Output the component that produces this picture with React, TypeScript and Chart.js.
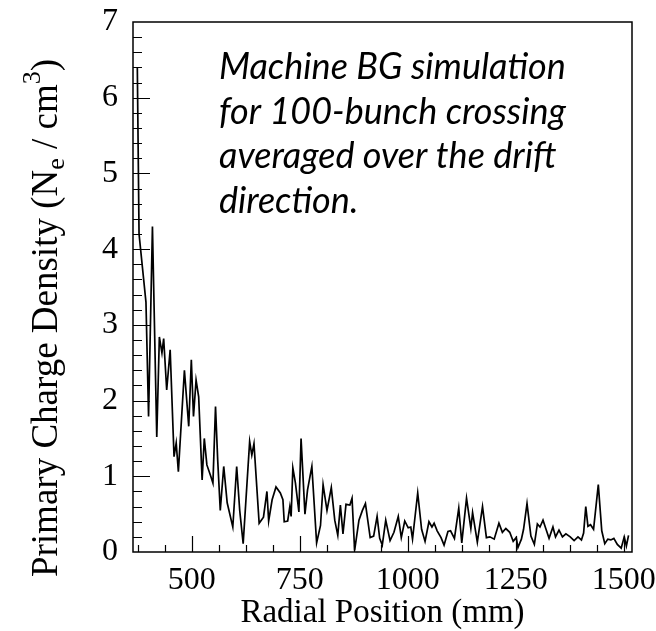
import React, { useEffect, useRef } from "react";
import { Chart, registerables } from "chart.js";

Chart.register(...registerables);

// Radial position (mm) of each sampled histogram point
const radialPos = [
  374, 378, 394, 400, 409, 419, 425, 431, 435, 442, 450, 459, 464, 469, 483, 493, 499, 504, 510, 516,
  524, 529, 535, 544, 549, 555, 560, 566, 574, 582, 595, 604, 611, 619, 634, 639, 644, 656, 666, 674,
  678, 686, 695, 705, 711, 714, 722, 727, 730, 734, 740, 748, 753, 762, 768, 778, 789, 798, 804, 813,
  823, 831, 838, 844, 850, 857, 866, 871, 877, 887, 895, 902, 913, 921, 929, 935, 941, 949, 959, 968,
  978, 985, 993, 1001, 1007, 1011, 1023, 1032, 1040, 1049, 1056, 1061, 1068, 1077, 1084, 1093, 1099, 1108, 1118, 1125,
  1136, 1146, 1150, 1161, 1173, 1182, 1190, 1200, 1211, 1219, 1227, 1236, 1244, 1251, 1255, 1263, 1268, 1276, 1285, 1293,
  1300, 1306, 1313, 1320, 1327, 1336, 1342, 1350, 1358, 1366, 1376, 1385, 1394, 1402, 1407, 1412, 1417, 1423, 1430, 1441,
  1449, 1456, 1463, 1470, 1477, 1485, 1494, 1501, 1506, 1511,
];

// Primary charge density (Ne / cm^3)
const density = [
  6.4, 4.2, 3.3, 1.79, 4.3, 1.52, 2.84, 2.63, 2.82, 2.14, 2.67, 1.26, 1.44, 1.06, 2.4, 1.66, 2.54, 1.79, 2.27, 2.05,
  0.95, 1.5, 1.15, 1.0, 0.91, 1.92, 1.22, 0.55, 1.13, 0.65, 0.33, 1.13, 0.55, 0.11, 1.46, 1.28, 1.43, 0.38, 0.46, 0.8,
  0.41, 0.69, 0.86, 0.78, 0.69, 0.4, 0.41, 0.6, 0.47, 1.11, 0.91, 0.53, 1.5, 0.5, 0.82, 1.13, 0.12, 0.35, 0.89, 0.55,
  0.85, 0.42, 0.22, 0.62, 0.24, 0.63, 0.62, 0.71, 0.02, 0.42, 0.55, 0.64, 0.19, 0.21, 0.47, 0.18, 0.09, 0.42, 0.15, 0.26,
  0.47, 0.19, 0.41, 0.32, 0.33, 0.17, 0.78, 0.3, 0.14, 0.4, 0.33, 0.38, 0.28, 0.19, 0.09, 0.27, 0.28, 0.18, 0.58, 0.12,
  0.71, 0.31, 0.52, 0.13, 0.6, 0.19, 0.2, 0.17, 0.38, 0.26, 0.31, 0.26, 0.14, 0.19, 0.06, 0.17, 0.3, 0.64, 0.21, 0.1,
  0.37, 0.33, 0.42, 0.3, 0.18, 0.33, 0.2, 0.29, 0.2, 0.24, 0.2, 0.15, 0.2, 0.16, 0.25, 0.6, 0.34, 0.36, 0.3, 0.89,
  0.28, 0.11, 0.17, 0.16, 0.18, 0.1, 0.05, 0.2, 0.08, 0.22,
];

const xTickValues = [500, 750, 1000, 1250, 1500];
const yTickValues = [0, 1, 2, 3, 4, 5, 6, 7];
const xMinorStart = 375;
const xMinorStep = 62.5;
const yMinorStep = 0.2;

const xTitle = "Radial Position (mm)";
const yTitleParts = [
  { text: "Primary Charge Density (N", kind: "normal" },
  { text: "e", kind: "sub" },
  { text: " / cm", kind: "normal" },
  { text: "3", kind: "sup" },
  { text: ")", kind: "normal" },
];
const noteLines = [
  "Machine BG simulation",
  "for 100-bunch crossing",
  "averaged over the drift",
  "direction.",
];

const SERIF = "'Liberation Serif', 'Times New Roman', serif";

const decorPlugin = {
  id: "decor",
  afterDraw(chart: any) {
    const { ctx, chartArea: a, scales } = chart;
    const xs = scales.x;
    const ys = scales.y;
    ctx.save();
    ctx.strokeStyle = "#000";
    ctx.lineWidth = 1.5;
    ctx.strokeRect(a.left, a.top, a.right - a.left, a.bottom - a.top);

    // inward ticks
    ctx.beginPath();
    for (let v = xMinorStart; v <= xs.max; v += xMinorStep) {
      const px = Math.round(xs.getPixelForValue(v)) + 0.5;
      const major = xTickValues.includes(v);
      ctx.moveTo(px, a.bottom);
      ctx.lineTo(px, a.bottom - (major ? 16 : 7));
    }
    const nY = Math.round((ys.max - ys.min) / yMinorStep);
    for (let i = 1; i < nY; i++) {
      const v = ys.min + i * yMinorStep;
      const py = Math.round(ys.getPixelForValue(v)) + 0.5;
      const major = Math.abs(v - Math.round(v)) < 1e-6;
      ctx.moveTo(a.left, py);
      ctx.lineTo(a.left + (major ? 17 : 9), py);
    }
    ctx.lineWidth = 1.2;
    ctx.stroke();

    // y-axis title with subscript / superscript
    const size = 37;
    const small = 26;
    ctx.fillStyle = "#000";
    ctx.textBaseline = "alphabetic";
    const fontFor = (k: string) => `${k === "normal" ? size : small}px ${SERIF}`;
    let total = 0;
    for (const p of yTitleParts) {
      ctx.font = fontFor(p.kind);
      total += ctx.measureText(p.text).width;
    }
    ctx.translate(57, 318);
    ctx.rotate(-Math.PI / 2);
    let x = -total / 2;
    for (const p of yTitleParts) {
      ctx.font = fontFor(p.kind);
      const dy = p.kind === "sub" ? 7 : p.kind === "sup" ? -17 : 0;
      ctx.fillText(p.text, x, dy);
      x += ctx.measureText(p.text).width;
    }
    ctx.restore();

    // annotation
    ctx.save();
    ctx.fillStyle = "#000";
    ctx.font = "italic 36px Lato, 'Open Sans', sans-serif";
    ctx.textBaseline = "alphabetic";
    ctx.textAlign = "left";
    noteLines.forEach((line, i) => {
      ctx.fillText(line, 219, 79 + i * 44.7);
    });
    ctx.restore();
  },
};

export default function App() {
  const ref = useRef<HTMLCanvasElement | null>(null);
  useEffect(() => {
    if (!ref.current) return;
    const chart = new Chart(ref.current, {
      type: "line",
      data: {
        datasets: [
          {
            data: radialPos.map((x, i) => ({ x, y: density[i] })),
            borderColor: "#000",
            borderWidth: 1.7,
            pointRadius: 0,
            tension: 0,
            fill: false,
          },
        ],
      },
      options: {
        animation: false,
        responsive: false,
        devicePixelRatio: 1,
        layout: { padding: { top: 22, right: 24, left: 0, bottom: 0 } },
        plugins: { legend: { display: false }, tooltip: { enabled: false } },
        scales: {
          x: {
            type: "linear",
            min: 364,
            max: 1519,
            afterBuildTicks: (s: any) => {
              s.ticks = xTickValues.map((v) => ({ value: v }));
            },
            afterFit: (s: any) => {
              s.height = 79;
              s.paddingLeft = 0;
              s.paddingRight = 0;
            },
            grid: { display: false, drawTicks: false },
            border: { display: false },
            ticks: {
              font: { family: SERIF, size: 32 },
              color: "#000",
              padding: 9,
              maxRotation: 0,
              autoSkip: false,
              callback: (v: any) => String(v),
            },
            title: {
              display: true,
              text: xTitle,
              font: { family: SERIF, size: 33 },
              color: "#000",
              padding: { top: 0, bottom: -2 },
            },
          },
          y: {
            type: "linear",
            min: 0,
            max: 7,
            afterBuildTicks: (s: any) => {
              s.ticks = yTickValues.map((v) => ({ value: v }));
            },
            afterFit: (s: any) => {
              s.width = 133;
              s.paddingTop = 0;
              s.paddingBottom = 0;
            },
            grid: { display: false, drawTicks: false },
            border: { display: false },
            ticks: {
              font: { family: SERIF, size: 32 },
              color: "#000",
              padding: 15,
              autoSkip: false,
              callback: (v: any) => String(v),
            },
          },
        },
      },
      plugins: [decorPlugin],
    } as any);
    return () => chart.destroy();
  }, []);
  return (
    <div style={{ position: "fixed", left: 0, top: 0, width: 656, height: 631, background: "#fff" }}>
      <canvas ref={ref} width={656} height={631} style={{ display: "block" }} />
    </div>
  );
}
